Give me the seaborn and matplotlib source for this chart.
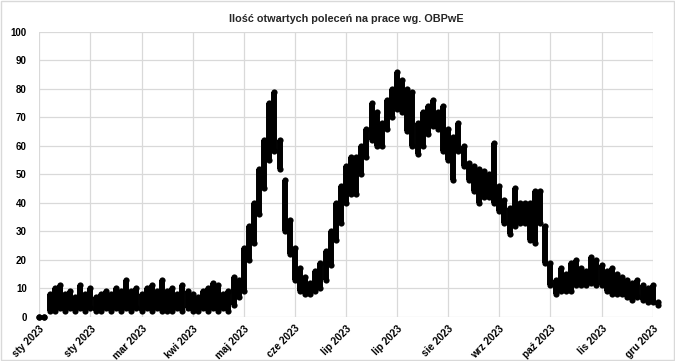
import matplotlib
matplotlib.use("Agg")
import matplotlib.pyplot as plt
import seaborn as sns
import pandas as pd
from matplotlib.patches import Rectangle

days = list(range(0, 366, 3))
low = [0, 0, 2, 2, 3, 2, 3, 2, 3, 2, 3, 2, 2, 3, 2, 3, 2, 3, 2, 3, 2, 3, 2, 3, 2,
       2, 2, 3, 2, 3, 2, 2, 3, 2, 3, 2, 3, 2, 4, 7,
       9, 20, 26, 36, 45, 55, 58, 52, 30, 22, 13, 9, 8, 8, 9, 10, 13, 18, 27, 33,
       40, 43, 43, 50, 56, 62, 60, 60, 66, 70, 73, 72, 65, 60, 57, 60, 64, 67, 66, 58,
       55, 48, 58, 53, 48, 44, 40, 42, 42, 40, 37, 33, 29, 32, 33, 33, 27, 26, 33, 19,
       11, 8, 9, 9, 9, 11, 11, 11, 12, 11, 11, 9, 8, 8, 8, 7, 6, 7, 6, 5, 5, 4]
high = [0, 0, 8, 10, 11, 8, 9, 7, 11, 8, 10, 7, 8, 9, 8, 10, 9, 13, 9, 10, 8, 10, 11, 9, 13,
        9, 10, 8, 11, 9, 8, 7, 9, 10, 12, 11, 8, 9, 14, 13,
        24, 32, 40, 52, 62, 75, 79, 62, 48, 34, 24, 17, 14, 12, 16, 19, 23, 30, 40, 46,
        53, 56, 56, 60, 66, 75, 72, 68, 76, 80, 86, 83, 80, 79, 68, 72, 74, 76, 72, 74,
        66, 63, 68, 60, 54, 53, 52, 51, 50, 61, 46, 41, 38, 45, 40, 40, 40, 44, 44, 32,
        19, 13, 17, 15, 19, 20, 17, 16, 21, 20, 18, 16, 17, 15, 14, 13, 12, 13, 11, 10, 11, 5]

tick_days = [0, 30, 60, 90, 120, 150, 180, 210, 240, 270, 300, 330, 360]
tick_labels = ["sty 2023", "sty 2023", "mar 2023", "kwi 2023", "maj 2023", "cze 2023",
               "lip 2023", "lip 2023", "sie 2023", "wrz 2023", "paź 2023", "lis 2023",
               "gru 2023"]
y_ticks = [0, 10, 20, 30, 40, 50, 60, 70, 80, 90, 100]
title = "Ilość otwartych poleceń na prace wg. OBPwE"

df = pd.DataFrame({"day": days, "low": low, "high": high})
long = df.melt(id_vars="day", value_vars=["low", "high"], value_name="value")

sns.set_theme(style="white")
plt.rcParams["font.family"] = ["Liberation Sans", "DejaVu Sans"]

fig = plt.figure(figsize=(6.75, 3.61), dpi=100)
ax = fig.add_axes([0.0582, 0.1227, 0.967 - 0.0582, 0.912 - 0.1227])

ax.vlines(df["day"], df["low"], df["high"], color="black", lw=4.3, zorder=3,
          clip_on=False)
sns.scatterplot(data=long, x="day", y="value", color="black", s=20, linewidth=0,
                ax=ax, legend=False, zorder=4, clip_on=False)

ax.set_xlim(0, 360)
ax.set_ylim(0, 100)
ax.set_xticks(tick_days)
ax.set_xticklabels(tick_labels, rotation=45, ha="right", rotation_mode="anchor",
                   fontsize=7.2, fontweight="bold")
ax.set_yticks(y_ticks)
ax.set_yticklabels([str(v) for v in y_ticks], fontsize=7, fontweight="bold")
ax.tick_params(axis="x", length=0, pad=5, colors="black")
ax.tick_params(axis="y", length=0, pad=9, colors="black")
ax.grid(True, color="#d9d9d9", lw=0.9)
ax.set_axisbelow(True)
for s in ax.spines.values():
    s.set_visible(False)
ax.set_xlabel("")
ax.set_ylabel("")
ax.set_title(title, fontsize=7.8, fontweight="bold", pad=7)

fig.patches.append(Rectangle((0.001, 0.002), 0.997, 0.995, transform=fig.transFigure,
                             fill=False, edgecolor="#d9d9d9", lw=1))

fig.savefig("out.png", dpi=100, facecolor="white")
